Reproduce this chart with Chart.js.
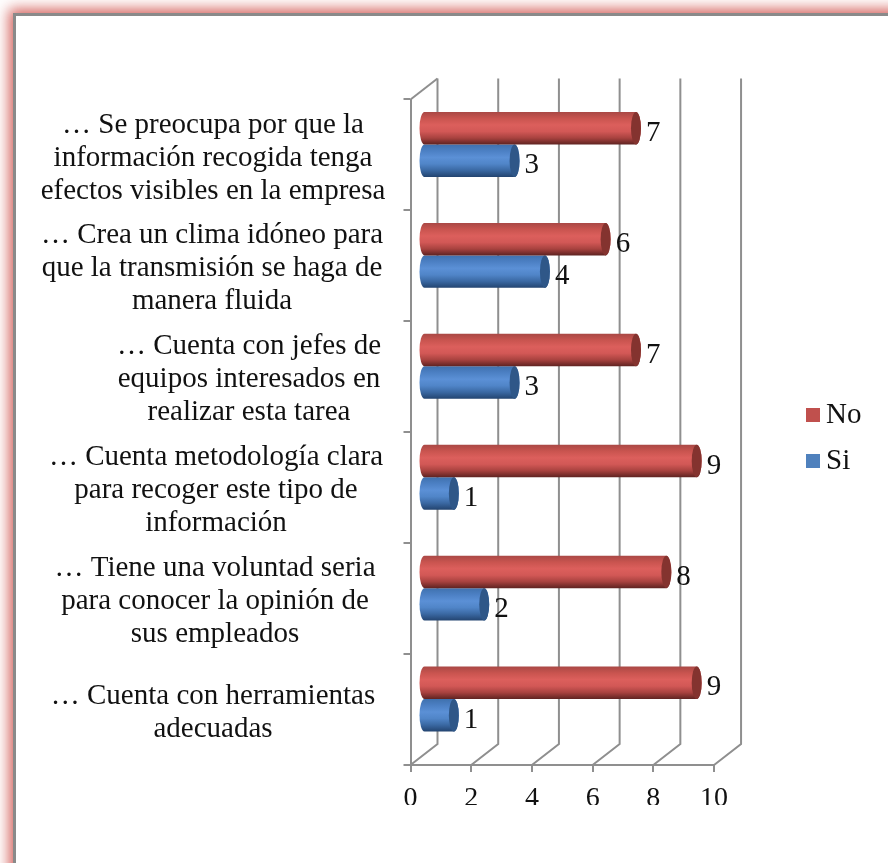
<!DOCTYPE html>
<html lang="es">
<head>
<meta charset="utf-8">
<title>Gráfico</title>
<script src="https://cdn.jsdelivr.net/npm/chart.js@4"></script>
<style>
  html, body { margin: 0; padding: 0; background: #fff; overflow: hidden; }
  #marco {
    position: absolute; left: 13px; top: 13px; width: 1000px; height: 1000px;
    border: 3px solid #8a8a8a;
    box-shadow: 0 0 13px 4px rgba(205, 70, 65, 0.85);
    background: #fff;
  }
  #grafico { position: absolute; left: 0; top: 0; }
</style>
</head>
<body>
<div id="marco"></div>
<canvas id="grafico" width="888" height="863"></canvas>
<script>
const categorias = [
  ["… Se preocupa por que la", "información recogida tenga", "efectos visibles en la empresa"],
  ["… Crea un clima idóneo para", "que la transmisión se haga de", "manera fluida"],
  ["… Cuenta con jefes de", "equipos interesados en", "realizar esta tarea"],
  ["… Cuenta metodología clara", "para recoger este tipo de", "información"],
  ["… Tiene una voluntad seria", "para conocer la opinión de", "sus empleados"],
  ["… Cuenta con herramientas", "adecuadas"]
];
const valoresNo = [7, 6, 7, 9, 8, 9];
const valoresSi = [3, 4, 3, 1, 2, 1];
const ticksX = [0, 2, 4, 6, 8, 10];

const FUENTE = '"Liberation Serif", serif';
const GRIS = "#8f8f8f";
// Profundidad del "3D": pared del fondo y centro de las barras
const FONDO = { dx: 27, dy: -21 };
const BARRA = { dx: 13, dy: -10.5 };
const RX = 5;
// Centro horizontal de cada bloque de etiquetas
const centrosEtiquetas = [213, 212, 249, 216, 215, 213];

const TONOS = {
  "No": { base: "#c0504d", tapa: "#84332f", paradas: ["#a94845", "#c9544f", "#dc5f5c", "#d25856", "#a8423f", "#5f2321"] },
  "Si": { base: "#4f81bd", tapa: "#2f5788", paradas: ["#3f71ae", "#4c80c4", "#5b90d6", "#5085c8", "#3a68a2", "#234470"] }
};

// Cuadrito de la leyenda (el margen izquierdo lo acerca al texto)
function cuadrito(color) {
  const c = document.createElement("canvas");
  c.width = 18;
  c.height = 14;
  const ctx = c.getContext("2d");
  ctx.fillStyle = color;
  ctx.fillRect(4, 0, 14, 14);
  return c;
}

function dibujarCilindro(ctx, el, tonos) {
  const x0 = el.base + BARRA.dx;
  const x1 = el.x + BARRA.dx;
  const y = el.y + BARRA.dy;
  const ry = el.height / 2;

  const grad = ctx.createLinearGradient(0, y - ry, 0, y + ry);
  tonos.paradas.forEach((c, i) => grad.addColorStop(i / (tonos.paradas.length - 1), c));

  ctx.beginPath();
  ctx.moveTo(x0, y - ry);
  ctx.lineTo(x1, y - ry);
  ctx.ellipse(x1, y, RX, ry, 0, -Math.PI / 2, Math.PI / 2);
  ctx.lineTo(x0, y + ry);
  ctx.ellipse(x0, y, RX, ry, 0, Math.PI / 2, Math.PI * 1.5);
  ctx.closePath();
  ctx.fillStyle = grad;
  ctx.fill();

  ctx.beginPath();
  ctx.ellipse(x1, y, RX, ry, 0, 0, Math.PI * 2);
  ctx.fillStyle = tonos.tapa;
  ctx.fill();
}

const plugin3D = {
  id: "plugin3D",
  // Pared del fondo, piso y lateral
  beforeDatasetsDraw(chart) {
    const { ctx, scales: { x, y } } = chart;
    ctx.save();
    ctx.strokeStyle = GRIS;
    ctx.lineWidth = 2;
    ticksX.forEach(t => {
      const px = x.getPixelForValue(t);
      ctx.beginPath();
      ctx.moveTo(px, y.bottom);
      ctx.lineTo(px + FONDO.dx, y.bottom + FONDO.dy);
      ctx.lineTo(px + FONDO.dx, y.top + FONDO.dy);
      ctx.stroke();
    });
    ctx.beginPath();
    ctx.moveTo(x.left, y.top);
    ctx.lineTo(x.left + FONDO.dx, y.top + FONDO.dy);
    ctx.stroke();
    ctx.restore();
  },
  // Cilindros en lugar de los rectángulos normales
  beforeDatasetDraw(chart, args) {
    const { ctx } = chart;
    const tonos = TONOS[chart.data.datasets[args.index].label];
    ctx.save();
    args.meta.data.forEach(el => dibujarCilindro(ctx, el, tonos));
    ctx.restore();
    return false;
  },
  afterDatasetsDraw(chart) {
    const { ctx, scales: { y } } = chart;
    ctx.save();
    ctx.fillStyle = "#111";
    ctx.font = "29px " + FUENTE;
    ctx.textBaseline = "middle";
    chart.data.datasets.forEach((d, i) => {
      chart.getDatasetMeta(i).data.forEach((el, j) => {
        ctx.textAlign = "left";
        ctx.fillText(d.data[j], el.x + BARRA.dx + RX + 5, el.y + BARRA.dy + 5);
      });
    });
    // Etiquetas de categoría: líneas centradas en su bloque
    ctx.textAlign = "center";
    y.ticks.forEach((t, i) => {
      const lineas = categorias[i];
      const cy = y.getPixelForTick(i);
      lineas.forEach((l, k) => {
        ctx.fillText(l, centrosEtiquetas[i], cy + (k - (lineas.length - 1) / 2) * 33 + 3);
      });
    });
    ctx.restore();
  },
  // La leyenda va separada del gráfico
  beforeDraw(chart) {
    const l = chart.legend;
    const ancho = l.right - l.left;
    l.left = 793.5;
    l.right = l.left + ancho;
    const alto = l.bottom - l.top;
    l.top = 438 - alto / 2;
    l.bottom = l.top + alto;
  }
};

new Chart(document.getElementById("grafico"), {
  type: "bar",
  data: {
    labels: categorias,
    datasets: [
      { label: "No", data: valoresNo, backgroundColor: TONOS["No"].base },
      { label: "Si", data: valoresSi, backgroundColor: TONOS["Si"].base }
    ]
  },
  options: {
    indexAxis: "y",
    responsive: false,
    animation: false,
    categoryPercentage: 0.585,
    barPercentage: 1,
    layout: { padding: { left: 403.5, top: 99.5, bottom: 58, right: 96 } },
    scales: {
      x: {
        min: 0,
        max: 10,
        afterFit: s => { s.height = 40; },
        afterBuildTicks: s => { s.ticks = ticksX.map(v => ({ value: v })); },
        border: { color: GRIS, width: 2 },
        grid: { drawOnChartArea: false, color: GRIS, lineWidth: 2, tickLength: 7 },
        ticks: { color: "#111", padding: 10, maxRotation: 0, font: { family: FUENTE, size: 28 } }
      },
      y: {
        afterFit: s => { s.width = 7; },
        border: { color: GRIS, width: 2 },
        grid: { drawOnChartArea: false, color: GRIS, lineWidth: 2, tickLength: 7 },
        ticks: { display: false }
      }
    },
    plugins: {
      tooltip: { enabled: false },
      legend: {
        position: "right",
        labels: {
          usePointStyle: true,
          pointStyleWidth: 1,
          padding: 17,
          color: "#111",
          font: { family: FUENTE, size: 29 },
          generateLabels: chart => chart.data.datasets.map((d, i) => ({
            text: d.label,
            pointStyle: cuadrito(d.backgroundColor),
            datasetIndex: i,
            fontColor: "#111",
            lineWidth: 0
          }))
        }
      }
    }
  },
  plugins: [plugin3D]
});
</script>
</body>
</html>
